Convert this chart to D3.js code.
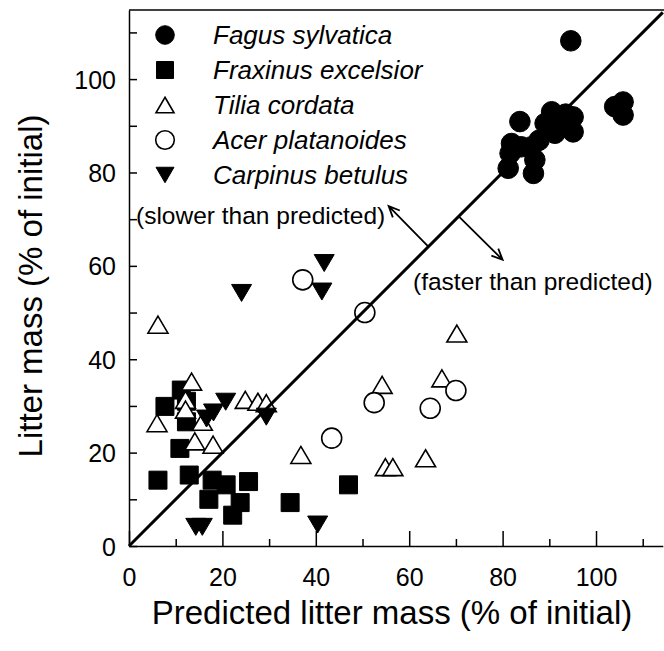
<!DOCTYPE html>
<html><head><meta charset="utf-8">
<script src="https://cdn.jsdelivr.net/npm/d3@7"></script>
<style>html,body{margin:0;padding:0;background:#fff}svg{display:block;font-family:"Liberation Sans",Arial,Helvetica,sans-serif}</style>
</head><body><svg id="c" width="664" height="651"></svg>
<script>
// ---- data (predicted litter mass, observed litter mass), % of initial ----
const species = ["Fagus sylvatica","Fraxinus excelsior","Tilia cordata","Acer platanoides","Carpinus betulus"];
const fagus = [[94.6,108.2],[104,94.1],[105.8,95.1],[105.8,92.3],[83.7,90.9],[90.5,93],[93.5,92.5],[95.1,91.9],[89.1,90.5],[91.2,88.4],[95.1,88.7],[81.9,86.2],[81.6,84.1],[81.2,80.9],[86.6,79.8],[86.9,82.7],[86.2,85.5],[87.8,86.9],[84,85.5],[92,91]];
const fraxinus = [[11.2,33.4],[12.3,31],[7.7,29.9],[12.3,26.6],[10.9,20.9],[6.2,14.1],[12.9,15.2],[17.8,14.1],[20.8,13.1],[25.6,13.8],[17.1,10],[23.8,9.3],[22.2,6.6],[34.5,9.3],[47,13.1]];
const tilia = [[6.2,47.4],[13.4,35.2],[12.1,31.3],[12.1,29.2],[6.0,26.3],[15.7,26.6],[14.1,22.4],[18,21.7],[24.9,31.3],[27.6,30.9],[29.4,30.6],[36.8,19.5],[70.2,45.5],[54.2,34.5],[67,35.9],[63.5,18.8],[54.9,16.9],[56.5,16.9]];
const acer = [[37.2,57],[50.5,50],[52.5,30.7],[64.5,29.5],[70,33.3],[43.4,23.1]];
const carpinus = [[41.8,60.6],[41.3,54.5],[24.1,54.2],[20.7,30.9],[16.6,27.3],[18.1,28.6],[29.4,27.7],[14.3,4.1],[15.7,4.1],[40.4,4.6]];
const xMajorTicks = [0,20,40,60,80,100];
const xMinorTicks = [10,30,50,70,90,110];
const yTicks = [0,10,20,30,40,50,60,70,80,90,100,110];
const yLabelTicks = [0,20,40,60,80,100];
const xTitle = "Predicted litter mass (% of initial)";
const yTitle = "Litter mass (% of initial)";
const noteSlower = "(slower than predicted)";
const noteFaster = "(faster than predicted)";

const svg = d3.select("#c");
const x = d3.scaleLinear().domain([0,114.3]).range([129,662.8]);
const y = d3.scaleLinear().domain([0,114.8]).range([546,10]);

// frame top
svg.append("line").attr("x1",129).attr("x2",664).attr("y1",y(114.8)).attr("y2",y(114.8))
  .attr("stroke","#000").attr("stroke-width",1.5);

// axes
const gx = svg.append("g").attr("transform",`translate(0,${y(0)})`)
  .call(d3.axisBottom(x).tickValues(xMajorTicks).tickSizeInner(-15).tickSizeOuter(0).tickFormat(d3.format("d")));
svg.append("g").attr("transform",`translate(0,${y(0)})`)
  .call(d3.axisBottom(x).tickValues(xMinorTicks).tickSizeInner(-7).tickSizeOuter(0).tickFormat(""))
  .select(".domain").remove();
gx.selectAll("text").attr("y",40).attr("dy",0).attr("font-size",25).attr("font-family",null).attr("fill","#000");
const gy = svg.append("g").attr("transform",`translate(${x(0)},0)`)
  .call(d3.axisLeft(y).tickValues(yTicks).tickSizeInner(-8).tickSizeOuter(0)
    .tickFormat(d => yLabelTicks.includes(d) ? d : ""));
gy.selectAll("text").attr("x",-13).attr("dy","0.36em").attr("font-size",25).attr("font-family",null).attr("fill","#000");
svg.selectAll(".domain, .tick line").attr("stroke","#000").attr("stroke-width",1.5);

// markers
const sym = {
  circle: (r) => d3.symbol().type(d3.symbolCircle).size(Math.PI*r*r)(),
  square: (s) => `M${-s/2},${-s/2}H${s/2}V${s/2}H${-s/2}Z`,
  up: (w,h) => `M0,${-h/2}L${w/2},${h/2}L${-w/2},${h/2}Z`,
  down: (w,h) => `M0,${h/2}L${w/2},${-h/2}L${-w/2},${-h/2}Z`
};
const styles = [
  {data: fagus, path: sym.circle(10.3), lpath: sym.circle(9.3), fill:"#000"},
  {data: fraxinus, path: sym.square(18), lpath: sym.square(17), fill:"#000"},
  {data: tilia, path: sym.up(20,17), lpath: sym.up(18,15.5), fill:"#fff"},
  {data: acer, path: sym.circle(10), lpath: sym.circle(9.3), fill:"#fff"},
  {data: carpinus, path: sym.down(20,17), lpath: sym.down(18,15.5), fill:"#000"}
];
styles.forEach(s => {
  svg.append("g").selectAll("path").data(s.data).join("path")
    .attr("d", s.path)
    .attr("transform", d => `translate(${x(d[0])},${y(d[1])})`)
    .attr("fill", s.fill).attr("stroke","#000").attr("stroke-width", s.fill==="#fff"?1.6:1);
});

// 1:1 line
svg.append("line").attr("x1",x(0)).attr("y1",y(0)).attr("x2",x(114.3)).attr("y2",y(114.3))
  .attr("stroke","#000").attr("stroke-width",3);

// arrows
function arrow(p0,p1){
  const x0=x(p0[0]), y0=y(p0[1]), x1=x(p1[0]), y1=y(p1[1]);
  const a=Math.atan2(y1-y0,x1-x0), L=12, sp=0.42;
  svg.append("path")
    .attr("d",`M${x0},${y0}L${x1},${y1}M${x1-L*Math.cos(a-sp)},${y1-L*Math.sin(a-sp)}L${x1},${y1}L${x1-L*Math.cos(a+sp)},${y1-L*Math.sin(a+sp)}`)
    .attr("fill","none").attr("stroke","#000").attr("stroke-width",1.8);
}
arrow([64.1,64.1],[55.6,72.8]);
arrow([70.6,70.6],[80.0,61.3]);

svg.append("text").attr("x",136).attr("y",224).attr("font-size",24.5).text(noteSlower);
svg.append("text").attr("x",413).attr("y",290).attr("font-size",24.5).text(noteFaster);

// legend
const lg = svg.append("g");
species.forEach((name,i) => {
  const cy = 35 + i*35;
  lg.append("path").attr("d", styles[i].lpath).attr("transform",`translate(165,${cy})`)
    .attr("fill", styles[i].fill).attr("stroke","#000").attr("stroke-width", styles[i].fill==="#fff"?1.6:1);
  lg.append("text").attr("x",213).attr("y",cy).attr("dy","0.36em").attr("font-size",26)
    .attr("font-style","italic").text(name);
});

// titles
svg.append("text").attr("x",392).attr("y",624).attr("text-anchor","middle").attr("font-size",33).text(xTitle);
svg.append("text").attr("transform","translate(42,286) rotate(-90)").attr("text-anchor","middle").attr("font-size",33).text(yTitle);
</script></body></html>
